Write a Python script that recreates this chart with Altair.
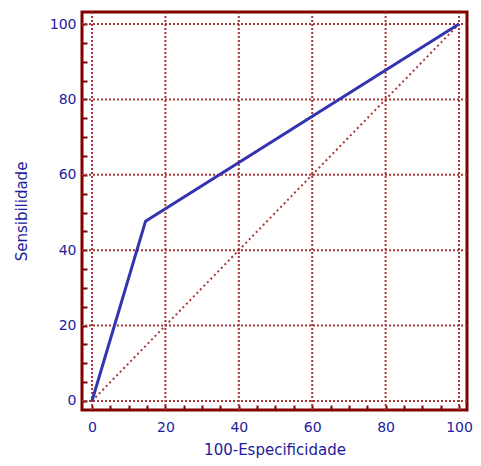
import altair as alt
import pandas as pd

# ROC curve points (100-Especificidade, Sensibilidade)
roc_x = [0, 14.6, 100]
roc_y = [0, 47.7, 100]
# Reference diagonal
diag_x = [0, 100]
diag_y = [0, 100]
# Grid values and tick values
grid_vals = [0, 20, 40, 60, 80, 100]
tick_vals = list(range(0, 101, 5))

RED = "#800000"
BLUE = "#1c1c9c"
GRID = "#a83838"
FONT = "DejaVu Sans"

xdom = [-2.72, 102.18]
ydom = [-2.39, 103.2]

roc_df = pd.DataFrame({"x": roc_x, "y": roc_y})
diag_df = pd.DataFrame({"x": diag_x, "y": diag_y})
grid_df = pd.DataFrame({"v": grid_vals})

xscale = alt.Scale(domain=xdom, nice=False, zero=False)
yscale = alt.Scale(domain=ydom, nice=False, zero=False)

label_expr = "datum.value % 20 == 0 ? datum.label : ''"

xaxis = alt.Axis(
    title="100-Especificidade", values=tick_vals, labelExpr=label_expr,
    domain=False, grid=False, ticks=True, tickSize=5, tickWidth=2, tickColor=RED,
    offset=-5, labelPadding=10, titlePadding=8, labelColor=BLUE, titleColor=BLUE,
    labelFont=FONT, titleFont=FONT, labelFontSize=14,
    titleFontSize=15, titleFontWeight="normal", labelOverlap=False, labelFlush=False,
)
yaxis = alt.Axis(
    title="Sensibilidade", values=tick_vals, labelExpr=label_expr,
    domain=False, grid=False, ticks=True, tickSize=5, tickWidth=2, tickColor=RED,
    offset=-5, labelPadding=6, titlePadding=20, labelColor=BLUE, titleColor=BLUE,
    labelFont=FONT, titleFont=FONT, labelFontSize=14,
    titleFontSize=15, titleFontWeight="normal", labelOverlap=False, labelFlush=False,
)

vgrid = alt.Chart(grid_df).mark_rule(color=GRID, strokeWidth=2, strokeDash=[2, 2]).encode(
    x=alt.X("v:Q", scale=xscale, axis=xaxis)
)
hgrid = alt.Chart(grid_df).mark_rule(color=GRID, strokeWidth=2, strokeDash=[2, 2]).encode(
    y=alt.Y("v:Q", scale=yscale, axis=yaxis)
)
diag = alt.Chart(diag_df).mark_line(color=GRID, strokeWidth=2, strokeDash=[2, 3]).encode(
    x=alt.X("x:Q", scale=xscale, axis=xaxis),
    y=alt.Y("y:Q", scale=yscale, axis=yaxis),
)
roc = alt.Chart(roc_df).mark_line(color="#3434b0", strokeWidth=3).encode(
    x=alt.X("x:Q", scale=xscale, axis=xaxis),
    y=alt.Y("y:Q", scale=yscale, axis=yaxis),
)

chart = (
    alt.layer(vgrid, hgrid, diag, roc)
    .properties(
        width=385, height=398,
        autosize=alt.AutoSizeParams(type="none"),
        padding={"left": 74, "top": 4, "right": 6, "bottom": 48},
        background="white",
    )
    .configure_view(stroke=RED, strokeWidth=3)
)

chart.save("out.html", embed_options={"renderer": "svg", "actions": False})
